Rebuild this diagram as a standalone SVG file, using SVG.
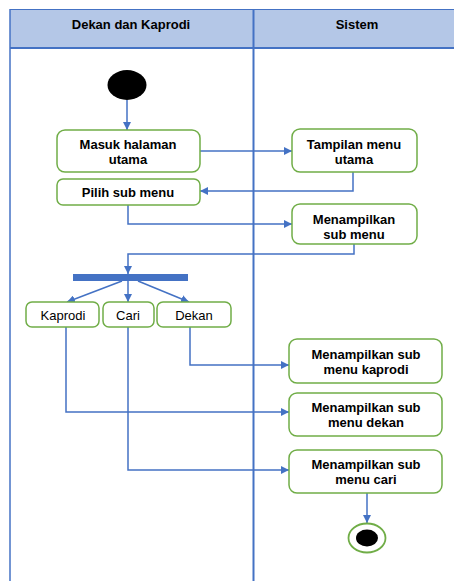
<svg xmlns="http://www.w3.org/2000/svg" width="454" height="581" viewBox="0 0 454 581">
<defs>
<style>
.lane{stroke:#4472C4;fill:none}
.node{fill:#fff;stroke:#70AD47;stroke-width:1.5}
.c{stroke:#4472C4;stroke-width:1.5;fill:none}
.t{font-family:"Liberation Sans",Arial,sans-serif;font-size:13px;text-anchor:middle;fill:#000}
.b{font-weight:bold}
</style>
<marker id="ah" viewBox="0 0 10 10" refX="10" refY="5" markerWidth="8" markerHeight="8" markerUnits="userSpaceOnUse" orient="auto">
<path d="M0,0 L10,5 L0,10 z" fill="#4472C4"/>
</marker>
</defs>
<rect width="454" height="581" fill="#fff"/>
<g id="lanes">
<rect x="10" y="9.5" width="444" height="38.5" fill="#B4C7E7"/>
<line class="lane" x1="10" y1="9.5" x2="454" y2="9.5" stroke-width="1"/>
<line class="lane" x1="10" y1="48" x2="454" y2="48" stroke-width="2"/>
<line class="lane" x1="10" y1="9" x2="10" y2="581" stroke-width="1.5"/>
<line class="lane" x1="253.5" y1="9" x2="253.5" y2="581" stroke-width="2"/>
<text class="t b" x="131" y="28.5">Dekan dan Kaprodi</text>
<text class="t b" x="357" y="28.5">Sistem</text>
</g>
<g id="connectors">
<path class="c" d="M127,100 V130" marker-end="url(#ah)"/>
<path class="c" d="M200,151 H292" marker-end="url(#ah)"/>
<path class="c" d="M353,172 V191 H200" marker-end="url(#ah)"/>
<path class="c" d="M128,205 V224 H292" marker-end="url(#ah)"/>
<path class="c" d="M354,244 V254 H128 V274" marker-end="url(#ah)"/>
<path class="c" d="M122,281 L67,302" marker-end="url(#ah)"/>
<path class="c" d="M128,281 V302" marker-end="url(#ah)"/>
<path class="c" d="M138,281 L189,302" marker-end="url(#ah)"/>
<path class="c" d="M190,327 V365 H289" marker-end="url(#ah)"/>
<path class="c" d="M66,327 V412 H289" marker-end="url(#ah)"/>
<path class="c" d="M128,327 V470 H289" marker-end="url(#ah)"/>
<path class="c" d="M367,493 V523" marker-end="url(#ah)"/>
</g>
<g id="start"><ellipse cx="127" cy="85" rx="19.5" ry="15" fill="#000"/></g>
<g id="fork"><rect x="73" y="274" width="115" height="7" fill="#4472C4"/></g>
<g id="masuk"><rect class="node" x="57" y="130" width="143" height="42" rx="8"/><text class="t b" x="128" y="149">Masuk halaman</text><text class="t b" x="128" y="164">utama</text></g>
<g id="tampilan"><rect class="node" x="292" y="129" width="125" height="43" rx="8"/><text class="t b" x="354" y="149">Tampilan menu</text><text class="t b" x="354" y="164">utama</text></g>
<g id="pilih"><rect class="node" x="57" y="179" width="143" height="26" rx="6"/><text class="t b" x="128" y="197">Pilih sub menu</text></g>
<g id="menampilkan"><rect class="node" x="292" y="204" width="125" height="40" rx="8"/><text class="t b" x="354" y="224">Menampilkan</text><text class="t b" x="354" y="239">sub menu</text></g>
<g id="kaprodi"><rect class="node" x="26" y="302" width="73" height="25" rx="6"/><text class="t" x="63" y="320">Kaprodi</text></g>
<g id="cari"><rect class="node" x="103" y="302" width="51" height="25" rx="6"/><text class="t" x="128" y="320">Cari</text></g>
<g id="dekan"><rect class="node" x="157" y="302" width="74" height="25" rx="6"/><text class="t" x="194" y="320">Dekan</text></g>
<g id="sub-kaprodi"><rect class="node" x="289" y="339" width="153" height="44" rx="8"/><text class="t b" x="366" y="359">Menampilkan sub</text><text class="t b" x="366" y="374">menu kaprodi</text></g>
<g id="sub-dekan"><rect class="node" x="289" y="393" width="153" height="43" rx="8"/><text class="t b" x="366" y="412">Menampilkan sub</text><text class="t b" x="366" y="427">menu dekan</text></g>
<g id="sub-cari"><rect class="node" x="289" y="450" width="153" height="43" rx="8"/><text class="t b" x="366" y="469">Menampilkan sub</text><text class="t b" x="366" y="484">menu cari</text></g>
<g id="end"><ellipse cx="367" cy="538" rx="18.5" ry="14.5" fill="#fff" stroke="#70AD47" stroke-width="1.8"/><ellipse cx="367" cy="538" rx="11" ry="8.5" fill="#000"/></g>
</svg>
